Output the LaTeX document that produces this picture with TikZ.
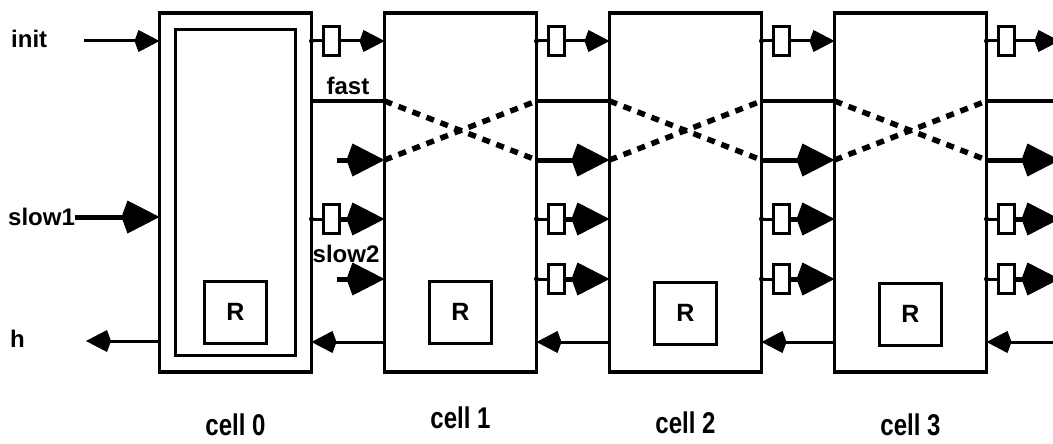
\documentclass[tikz,border=0pt]{standalone}
\usepackage{fontspec}
\setmainfont{Liberation Sans}
\usetikzlibrary{arrows.meta,positioning}
\newcommand{\dly}[4]{\coordinate (#1o#3) at (#1.east |- 0,#3);
  \node[dbox,right=12pt of #1o#3] (#1d#3) {};
  \fill (#1o#3) circle (2.5pt);
  \draw[wire] (#1o#3) -- (#1d#3);
  \draw[#4] (#1d#3) -- (#1d#3 -| #2); }
\newcommand{\cellgap}[2]{\dly{#1}{#2}{41}{sig}
  \draw[fastw] (#1.east |- 0,101) -- (#2 |- 0,101);
  \draw[big] (#1.east |- 0,160) -- (#2 |- 0,160);
  \dly{#1}{#2}{219}{big}
  \dly{#1}{#2}{279}{big}
  \draw[sig] (#2 |- 0,342) -- (#1.east |- 0,342); }
\newcommand{\xing}[1]{\draw[xdash] (#1.west |- 0,101) -- (#1.east |- 0,160);
  \draw[xdash] (#1.west |- 0,160) -- (#1.east |- 0,101); }

\begin{document}
\begin{tikzpicture}[x=1pt,y=-1pt,
  cellbox/.style={draw,line width=3.5pt,minimum width=152pt,minimum height=359pt,inner sep=0pt,outer sep=0pt},
  rbox/.style={draw,line width=3pt,minimum size=62pt,inner sep=0pt,outer sep=0pt,font=\fontsize{25}{28}\selectfont\bfseries},
  dbox/.style={draw,fill=white,line width=2.5pt,minimum width=16pt,minimum height=29pt,inner sep=0pt,outer sep=0pt},
  wire/.style={line width=3pt},
  fastw/.style={line width=4.5pt},
  sig/.style={line width=3pt,-{Kite[length=25pt,width=22pt,inset=4pt]}},
  big/.style={line width=5pt,-{Kite[length=38pt,width=33pt,inset=6pt]}},
  xdash/.style={line width=5.5pt,dash pattern=on 8pt off 7pt},
  lbl/.style={font=\fontsize{24}{28}\selectfont\bfseries,inner sep=0pt},
  cname/.style={lbl,yscale=1.25}]
  \clip (0,0) rectangle (1053,444);
  \node[cellbox] (c0) at (235.5,192.5) {};
  \node[cellbox,minimum width=120pt,minimum height=325pt,line width=3pt] (c0in) at (c0) {};
  \node[cellbox,right=73pt of c0] (c1) {};
  \node[cellbox,right=73pt of c1] (c2) {};
  \node[cellbox,right=73pt of c2] (c3) {};
  \coordinate[right=73pt of c3.east] (c4);
  \node[rbox,above=29pt of c0.south] (r0) {R};
  \node[rbox,above=29pt of c1.south] (r1) {R};
  \node[rbox,above=28pt of c2.south] (r2) {R};
  \node[rbox,above=27pt of c3.south] (r3) {R};

  \node[lbl,anchor=west] (tinit) at (11,39) {init};
  \node[lbl,anchor=west] (tslow) at (8,217) {slow1};
  \node[lbl,anchor=west] (th) at (10,339) {h};
  \coordinate (ini) at (84,41);
  \coordinate (hout) at (86,341);
  \draw[sig] (ini) -- (ini -| c0.west);
  \draw[big] (tslow.east) -- (tslow.east -| c0.west);
  \draw[sig] (c0.west |- hout) -- (hout);

  \dly{c0}{c1.west}{41}{sig}
  \draw[fastw] (c0.east |- 0,101) -- node[lbl,above=4pt] (tfast) {fast} (c1.west |- 0,101);
  \coordinate (f0) at (337,160);
  \draw[big] (f0) -- (f0 -| c1.west);
  \dly{c0}{c1.west}{219}{big}
  \coordinate (s0) at (337,279);
  \draw[big] (s0) -- (s0 -| c1.west);
  \node[lbl] (tslow2) at (346,254) {slow2};
  \draw[sig] (c1.west |- 0,342) -- (c0.east |- 0,342);

  \cellgap{c1}{c2.west}
  \cellgap{c2}{c3.west}
  \cellgap{c3}{c4}
  \xing{c1}
  \xing{c2}
  \xing{c3}

  \node[cname] (n0) at (c0.south |- 0,425) {cell 0};
  \node[cname] (n1) at (c1.south |- 0,418) {cell 1};
  \node[cname] (n2) at (c2.south |- 0,423) {cell 2};
  \node[cname] (n3) at (c3.south |- 0,425) {cell 3};
\end{tikzpicture}
\end{document}
